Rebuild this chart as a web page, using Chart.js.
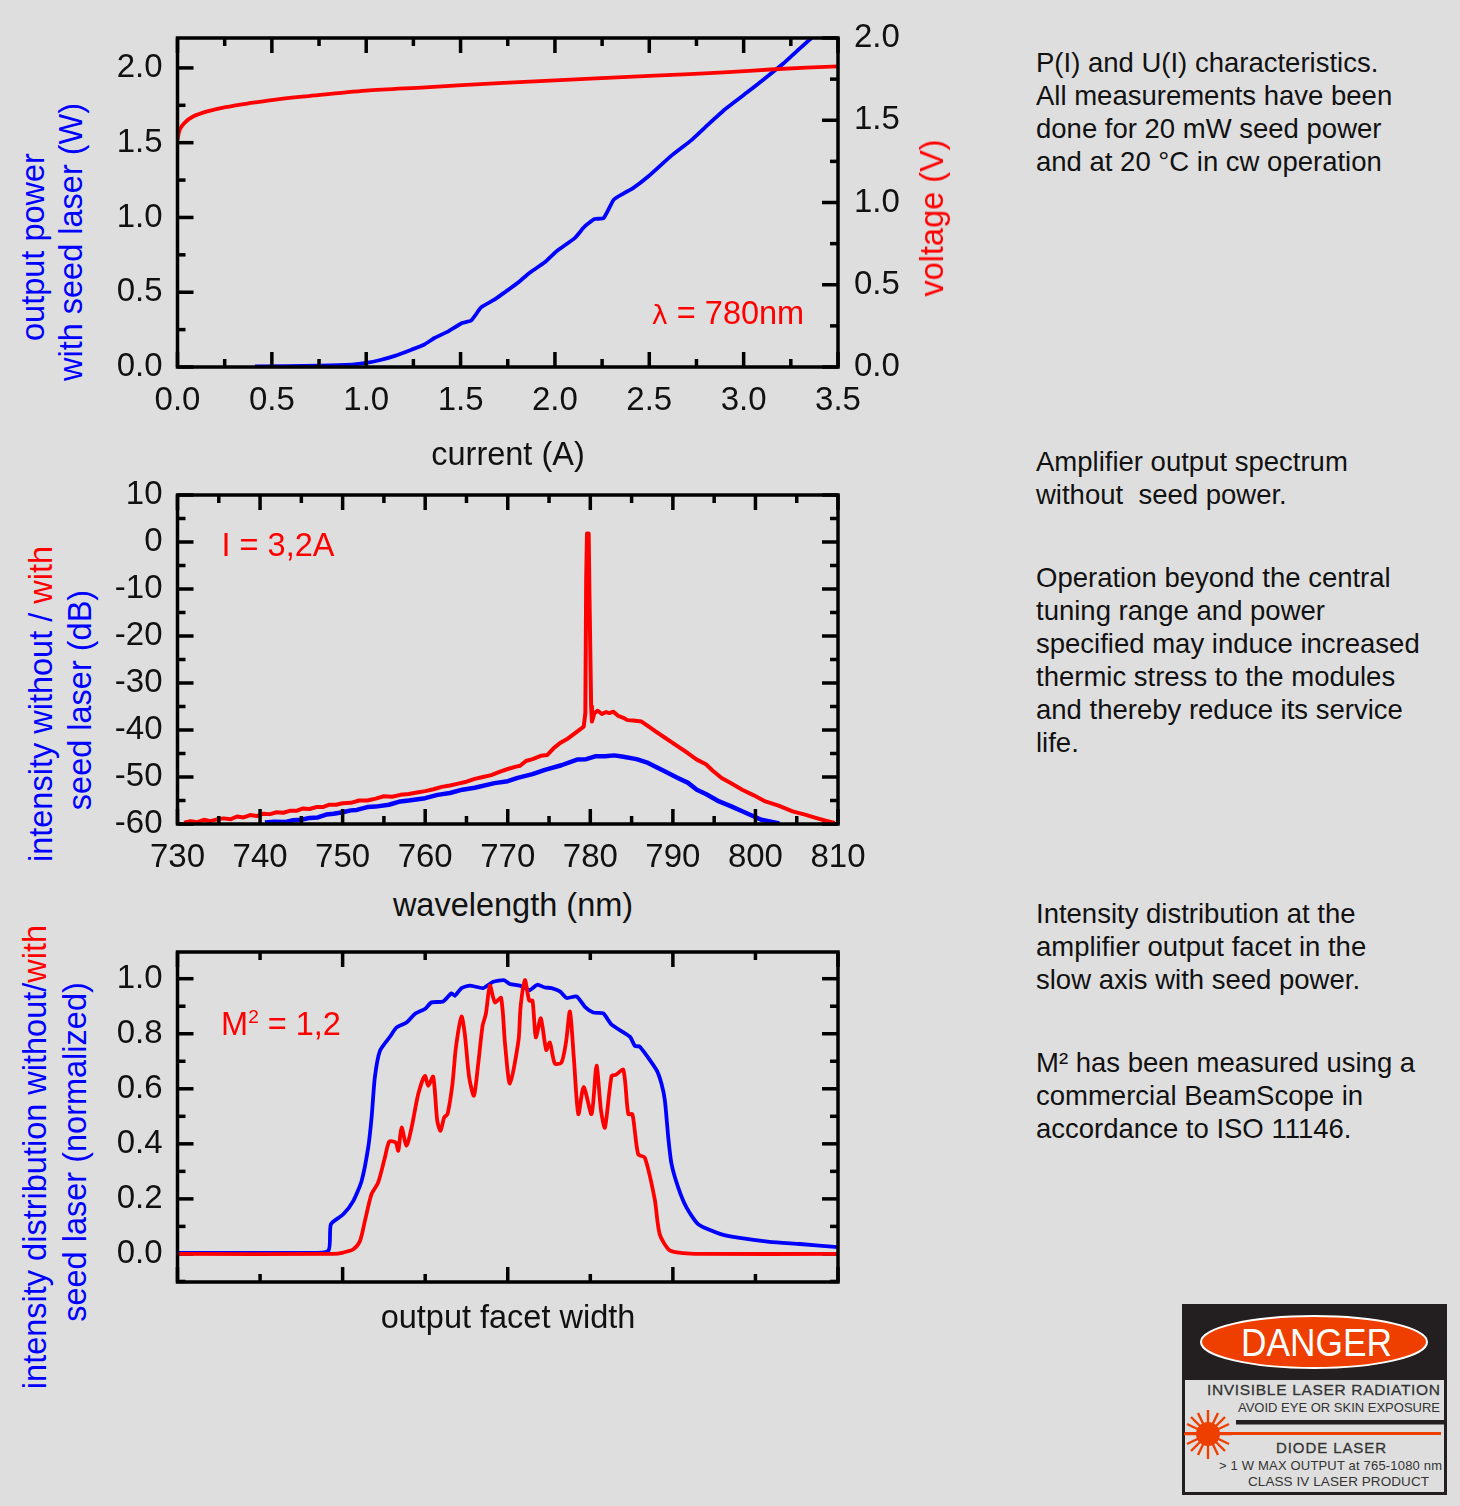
<!DOCTYPE html>
<html lang="en">
<head>
  <meta charset="UTF-8" />
  <title>Tapered amplifier characteristics</title>
  <script src="https://cdn.jsdelivr.net/npm/chart.js"></script>
  <style>
    html, body { margin: 0; padding: 0; }
    body {
      width: 1460px;
      height: 1506px;
      position: relative;
      overflow: hidden;
      background: #dedede;
      font-family: "Liberation Sans", Arial, sans-serif;
      color: #111;
    }
    .box { position: absolute; left: 100px; width: 820px; }
    .title { position: absolute; font-size: 32.5px; line-height: 36px; white-space: nowrap; transform: translate(-50%, -50%); }
    .rot { transform: translate(-50%, -50%) rotate(-90deg); }
    .blue { color: #0000ff; }
    .red { color: #ff0000; }
    .note { position: absolute; font-size: 27.5px; line-height: 33px; left: 1036px; white-space: nowrap; }
    sup { font-size: 19px; line-height: 0; vertical-align: 12px; }
    .sym { font-family: "DejaVu Sans", sans-serif; font-size: 27px; }
    #label { position: absolute; left: 0; top: 0; }
  </style>
</head>
<body>
  <div class="box" style="top:10px;height:430px"><canvas id="piChart"></canvas></div>
  <div class="box" style="top:470px;height:410px"><canvas id="specChart"></canvas></div>
  <div class="box" style="top:940px;height:360px"><canvas id="facetChart"></canvas></div>

  <!-- axis titles -->
  <div class="title" style="left:508px;top:454px">current (A)</div>
  <div class="title" style="left:513px;top:905px">wavelength (nm)</div>
  <div class="title" style="left:508px;top:1317px">output facet width</div>
  <div class="title rot red" style="left:932px;top:218px">voltage (V)</div>
  <div class="title rot blue" style="left:33px;top:247px">output power</div>
  <div class="title rot blue" style="left:71px;top:242px">with seed laser (W)</div>
  <div class="title rot blue" style="left:41px;top:704px">intensity without / <span class="red">with</span></div>
  <div class="title rot blue" style="left:80px;top:700px">seed laser (dB)</div>
  <div class="title rot blue" style="left:35px;top:1157px">intensity distribution without/<span class="red">with</span></div>
  <div class="title rot blue" style="left:75px;top:1152px">seed laser (normalized)</div>

  <!-- annotations -->
  <div class="title red" style="left:728px;top:314px"><span class="sym">λ</span> = 780nm</div>
  <div class="title red" style="left:278px;top:545px">I = 3,2A</div>
  <div class="title red" style="left:281px;top:1024px">M<sup>2</sup> = 1,2</div>

  <!-- side notes -->
  <div class="note" style="top:46px">P(I) and U(I) characteristics.<br>All measurements have been<br>done for 20 mW seed power<br>and at 20 °C in cw operation</div>
  <div class="note" style="top:445px">Amplifier output spectrum<br>without&nbsp; seed power.</div>
  <div class="note" style="top:561px">Operation beyond the central<br>tuning range and power<br>specified may induce increased<br>thermic stress to the modules<br>and thereby reduce its service<br>life.</div>
  <div class="note" style="top:897px">Intensity distribution at the<br>amplifier output facet in the<br>slow axis with seed power.</div>
  <div class="note" style="top:1046px">M² has been measured using a<br>commercial BeamScope in<br>accordance to ISO 11146.</div>

  <!-- warning label -->
  <svg id="label" width="1460" height="1506" font-family="Liberation Sans, Arial, sans-serif">
    <rect x="1182" y="1304" width="265" height="191" fill="#231f20"/>
    <rect x="1185" y="1380" width="259" height="112" fill="#dedede"/>
    <ellipse cx="1314" cy="1342" rx="113" ry="26" fill="#ee3f00" stroke="#fff" stroke-width="2"/>
    <text x="1241" y="1356" font-size="38" fill="#fff" textLength="151" lengthAdjust="spacingAndGlyphs">DANGER</text>
    <text x="1207" y="1395" font-size="15.5" fill="#333" stroke="#333" stroke-width="0.3" textLength="233" lengthAdjust="spacing">INVISIBLE LASER RADIATION</text>
    <text x="1238" y="1412" font-size="13.5" fill="#333" textLength="202" lengthAdjust="spacingAndGlyphs">AVOID EYE OR SKIN EXPOSURE</text>
    <rect x="1236" y="1420" width="208" height="4.5" fill="#231f20"/>
    <rect x="1185" y="1432" width="256" height="3" fill="#ee3f00"/>
    <g stroke="#ee3f00" stroke-width="2.4">
      <line x1="1208" y1="1410" x2="1208" y2="1459"/>
      <line x1="1184" y1="1434" x2="1232" y2="1434"/>
      <line x1="1191" y1="1417" x2="1225" y2="1451"/>
      <line x1="1191" y1="1451" x2="1225" y2="1417"/>
      <line x1="1198" y1="1413" x2="1218" y2="1455"/>
      <line x1="1218" y1="1413" x2="1198" y2="1455"/>
      <line x1="1187" y1="1424" x2="1229" y2="1444"/>
      <line x1="1187" y1="1444" x2="1229" y2="1424"/>
    </g>
    <circle cx="1208" cy="1434" r="12" fill="#ee3f00"/>
    <text x="1276" y="1452.5" font-size="15" fill="#333" stroke="#333" stroke-width="0.3" textLength="110" lengthAdjust="spacing">DIODE LASER</text>
    <text x="1219" y="1470" font-size="13" fill="#333" textLength="223" lengthAdjust="spacing">&gt; 1 W MAX OUTPUT at 765-1080 nm</text>
    <text x="1248" y="1486" font-size="13.5" fill="#333" textLength="181" lengthAdjust="spacing">CLASS IV LASER PRODUCT</text>
  </svg>

  <script>
    // P(I) curve, amps / watts
    const powerCurrent = [0.41,0.75,0.925,1.0,1.07,1.156,1.24,1.306,1.362,1.435,1.508,1.557,1.61,1.679,1.74,1.80,1.86,1.946,2.007,2.105,2.158,2.21,2.258,2.311,2.36,2.414,2.494,2.616,2.725,2.81,2.908,3.017,3.114,3.212,3.285,3.353,3.39];
    const powerWatts = [0.004,0.009,0.016,0.027,0.045,0.076,0.116,0.149,0.194,0.238,0.294,0.312,0.40,0.45,0.505,0.56,0.624,0.70,0.773,0.862,0.94,0.989,0.996,1.118,1.158,1.196,1.274,1.412,1.519,1.619,1.73,1.835,1.931,2.031,2.116,2.192,2.24];
    // U(I) curve, amps / volts
    const voltCurrent = [0,0.012,0.036,0.085,0.158,0.255,0.389,0.499,0.681,0.998,1.314,1.703,2.19,2.53,2.895,3.163,3.5];
    const voltValues = [1.382,1.443,1.483,1.524,1.554,1.58,1.605,1.623,1.645,1.68,1.70,1.726,1.753,1.771,1.791,1.81,1.828];

    // spectrum with seed (red) and without (blue)
    const seedNm = [730.8,731.6,732.4,733.2,734,734.8,735.6,736.4,737.2,738,738.8,739.6,740.4,741.2,742,742.8,743.6,744.4,745.2,746,746.8,747.6,748.4,749.2,750,751,752,753,754,755,756,757,758,759,760,761,762,763,764,765,766,767,768,769,770,771,771.5,772.2,773,774,774.8,775.6,776.4,777.3,778.2,779.2,779.4,779.5,779.6,779.8,779.9,780.1,780.2,780.5,780.9,781.4,781.9,782.3,782.8,783.4,784,784.5,785.2,786.2,787,787.9,789,790.6,791.8,792.9,794,794.8,795.9,797,798.4,799.8,801.2,802.8,804.5,806,807.3,808.5,809.6];
    const seedDb = [-59.7,-59.4,-59.6,-59.1,-59.4,-59,-58.8,-59,-58.4,-58.6,-58.1,-58.3,-57.8,-57.9,-57.5,-57.6,-57.2,-57.2,-56.7,-56.8,-56.4,-56.4,-55.9,-55.9,-55.6,-55.5,-55,-55,-54.6,-54.1,-54.2,-53.8,-53.6,-53.3,-53,-52.6,-52.1,-51.8,-51.4,-51,-50.4,-50,-49.6,-48.9,-48.3,-47.8,-47.6,-46.6,-46.2,-45.5,-45.3,-43.8,-42.7,-41.8,-40.6,-39.3,-36.4,-8.1,1.8,1.8,-11.7,-35,-38.2,-36.4,-35.9,-36.6,-36.2,-36.4,-36.1,-37,-37.4,-37.9,-38,-38.2,-39.2,-40.3,-41.6,-43.5,-44.9,-46.3,-47.3,-48.6,-50.2,-51.3,-52.7,-53.9,-55.2,-56.1,-57.3,-58,-58.7,-59.3,-59.8];
    const noSeedNm = [740.6,741.7,743,744,745,746,747,748,748.9,750,751,751.7,753,754,755.6,757,758,760,761.5,763,764.5,766,768.4,770,771.2,773,774.5,776.5,778.4,779.5,780.6,781.8,782.9,784,785.6,787,787.9,789,790.6,791.8,792.9,794,795.6,797,798.4,800.7,802.9];
    const noSeedDb = [-59.7,-59.5,-59.6,-59.2,-59.1,-58.7,-58.6,-58,-57.8,-57.5,-57.1,-57,-56.4,-56.3,-55.9,-55.2,-55,-54.5,-53.8,-53.4,-52.7,-52.3,-51.3,-50.9,-50.2,-49.4,-48.5,-47.5,-46.3,-46.2,-45.6,-45.6,-45.4,-45.7,-46.2,-47,-47.8,-48.8,-50.2,-51.2,-52.7,-53.6,-55.2,-56.2,-57.3,-59.1,-59.9];

    // facet profile, position in tick units
    const blueFacetX = [0,1.483,1.826,1.858,2.008,2.13,2.23,2.31,2.351,2.39,2.452,2.573,2.654,2.774,2.875,2.996,3.077,3.218,3.319,3.359,3.44,3.541,3.703,3.824,3.953,4.026,4.147,4.268,4.357,4.45,4.531,4.632,4.713,4.834,4.935,5.036,5.157,5.258,5.48,5.54,5.6,5.802,5.863,5.904,5.944,5.984,6.065,6.166,6.307,6.57,6.81,7.17,7.54,8];
    const blueFacetY = [0.004,0.004,0.011,0.108,0.144,0.193,0.265,0.387,0.496,0.641,0.738,0.789,0.823,0.841,0.872,0.89,0.914,0.917,0.947,0.938,0.966,0.975,0.966,0.989,0.995,0.981,0.975,0.959,0.978,0.968,0.966,0.954,0.93,0.935,0.898,0.877,0.874,0.833,0.789,0.756,0.753,0.668,0.617,0.556,0.423,0.326,0.241,0.168,0.108,0.073,0.058,0.044,0.036,0.025];
    const redFacetX = [0,1.89,2.008,2.13,2.21,2.27,2.35,2.43,2.512,2.565,2.642,2.674,2.714,2.774,2.835,2.916,2.996,3.037,3.097,3.146,3.186,3.23,3.271,3.33,3.372,3.44,3.48,3.533,3.59,3.642,3.695,3.735,3.784,3.845,3.919,3.967,4.026,4.13,4.155,4.208,4.26,4.3,4.34,4.4,4.466,4.51,4.57,4.65,4.705,4.753,4.8,4.855,4.92,5.015,5.075,5.13,5.177,5.258,5.31,5.4,5.46,5.51,5.58,5.66,5.78,5.84,5.96,6.125,6.326,8];
    const redFacetY = [0,0,0.005,0.017,0.047,0.12,0.217,0.259,0.35,0.408,0.405,0.375,0.459,0.393,0.459,0.581,0.647,0.611,0.644,0.484,0.447,0.496,0.508,0.617,0.75,0.862,0.799,0.641,0.575,0.69,0.829,0.872,0.975,0.914,0.93,0.763,0.619,0.775,0.896,0.995,0.92,0.92,0.787,0.856,0.741,0.768,0.692,0.695,0.768,0.881,0.714,0.508,0.607,0.508,0.684,0.52,0.459,0.647,0.651,0.669,0.508,0.508,0.362,0.35,0.199,0.072,0.013,0.003,0,0];

    const tickFont = { family: "'Liberation Sans', Arial, sans-serif", size: 33 };

    function pairs(xs, ys) {
      return xs.map((x, i) => ({ x: x, y: ys[i] }));
    }

    function isMajor(v, step) {
      const r = v / step;
      return Math.abs(r - Math.round(r)) < 1e-6;
    }

    function curve(data, color, extra) {
      return Object.assign({
        data: data,
        borderColor: color,
        borderWidth: 3.8,
        pointRadius: 0,
        tension: 0,
        borderJoinStyle: 'round'
      }, extra);
    }

    // size: fixed width/height of the axis box so the plot area lands where it should
    function axis(min, max, step, major, digits, padding, position, size, showLabels) {
      return {
        type: 'linear',
        position: position,
        min: min,
        max: max,
        afterFit: s => {
          if (s.isHorizontal()) s.height = size; else s.width = size;
          s.paddingTop = s.paddingBottom = s.paddingLeft = s.paddingRight = 0;
        },
        grid: { display: false, drawTicks: false },
        border: { display: false },
        ticks: {
          stepSize: step,
          includeBounds: false,
          autoSkip: false,
          maxRotation: 0,
          padding: padding,
          color: '#111',
          font: tickFont,
          display: showLabels,
          callback: v => isMajor(v, major) ? v.toFixed(digits) : ''
        }
      };
    }

    function line(ctx, x1, y1, x2, y2) {
      ctx.beginPath();
      ctx.moveTo(x1, y1);
      ctx.lineTo(x2, y2);
      ctx.stroke();
    }

    // ticks point inwards on all four sides. The y ticks lie under the curves,
    // the x ticks and the heavy frame over them.
    function frame(majors) {
      return {
        id: 'frame',
        beforeDatasetsDraw(chart) {
          const { ctx, chartArea: a, scales } = chart;
          ctx.save();
          ctx.strokeStyle = '#000';
          ctx.lineWidth = 3.5;
          scales.y.ticks.forEach(t => {
            const py = scales.y.getPixelForValue(t.value);
            const len = isMajor(t.value, majors.y) ? 16 : 8;
            line(ctx, a.left, py, a.left + len, py);
            if (!scales.y2) line(ctx, a.right, py, a.right - len, py);
          });
          if (scales.y2) {
            scales.y2.ticks.forEach(t => {
              const py = scales.y2.getPixelForValue(t.value);
              const len = isMajor(t.value, majors.y2) ? 16 : 8;
              line(ctx, a.right, py, a.right - len, py);
            });
          }
          ctx.restore();
        },
        afterDatasetsDraw(chart) {
          const { ctx, chartArea: a, scales } = chart;
          ctx.save();
          ctx.strokeStyle = '#000';
          ctx.lineWidth = 3.5;
          scales.x.ticks.forEach(t => {
            const px = scales.x.getPixelForValue(t.value);
            const len = isMajor(t.value, majors.x) ? 15 : 8;
            line(ctx, px, a.top, px, a.top + len);
            line(ctx, px, a.bottom, px, a.bottom - len);
          });
          ctx.strokeRect(a.left, a.top, a.right - a.left, a.bottom - a.top);
          ctx.restore();
        }
      };
    }

    function makeChart(id, datasets, scales, majors, padding) {
      return new Chart(document.getElementById(id).getContext('2d'), {
        type: 'line',
        data: { datasets: datasets },
        options: {
          responsive: true,
          maintainAspectRatio: false,
          animation: false,
          layout: { padding: padding, autoPadding: false },
          plugins: { legend: { display: false }, tooltip: { enabled: false } },
          scales: scales
        },
        plugins: [frame(majors)]
      });
    }

    // first dataset ends up on top, red lies over blue in the picture
    makeChart('piChart', [
      curve(pairs(voltCurrent, voltValues), '#ff0000', { yAxisID: 'y2', tension: 0.3 }),
      curve(pairs(powerCurrent, powerWatts), '#0000ff', { yAxisID: 'y', tension: 0.15 })
    ], {
      x: axis(0, 3.5, 0.25, 0.5, 1, 14, 'bottom', 60, true),
      y: axis(0, 2.2, 0.25, 0.5, 1, 15, 'left', 70, true),
      y2: axis(0, 2, 0.25, 0.5, 1, 16, 'right', 70, true)
    }, { x: 0.5, y: 0.5, y2: 0.5 }, { left: 7.5, right: 12, top: 28, bottom: 13 });

    makeChart('specChart', [
      curve(pairs(seedNm, seedDb), '#ff0000', { borderWidth: 4 }),
      curve(pairs(noSeedNm, noSeedDb), '#0000ff', { borderWidth: 4.5 })
    ], {
      x: axis(730, 810, 5, 10, 0, 14, 'bottom', 50, true),
      y: axis(-60, 10, 5, 10, 0, 15, 'left', 70, true)
    }, { x: 10, y: 10 }, { left: 7.5, right: 82, top: 25, bottom: 6 });

    makeChart('facetChart', [
      curve(pairs(redFacetX, redFacetY), '#ff0000', { tension: 0.25 }),
      curve(pairs(blueFacetX, blueFacetY), '#0000ff', { tension: 0.2 })
    ], {
      x: axis(0, 8, 1, 2, 0, 12, 'bottom', 10, false),
      y: axis(-0.102, 1.097, 0.1, 0.2, 1, 15, 'left', 70, true)
    }, { x: 2, y: 0.2 }, { left: 7.5, right: 82, top: 12, bottom: 8 });
  </script>
</body>
</html>
